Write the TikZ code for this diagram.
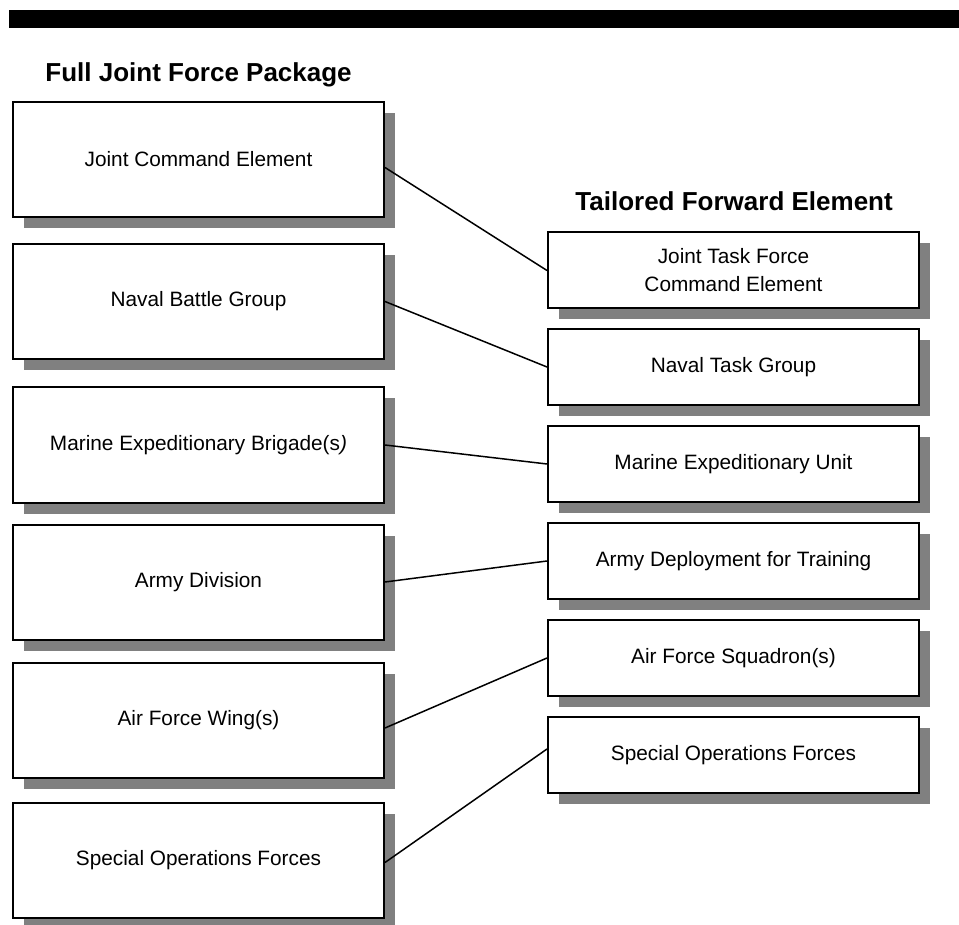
\documentclass[tikz,border=0pt]{standalone}
\usepackage{fontspec}
\setmainfont{Liberation Sans}
\usepackage{xcolor}
\usepackage{tikz}
\usetikzlibrary{shadows}
\definecolor{shadowgray}{RGB}{128, 128, 128}

\begin{document}
\begin{tikzpicture}[x=0.5pt, y=-0.5pt,
            full/.style = {draw=black, line width=1pt, fill=white, text=black, minimum width=185.5pt, minimum height=57.5pt, align=center, font=\fontsize{10.4}{14}\selectfont,
                drop shadow={shadow xshift=5.5pt, shadow yshift=-5.5pt, fill=shadowgray, opacity=1}},
            tailored/.style = {full, minimum height=38pt},
            heading/.style = {anchor=base west, inner sep=0pt, font=\fontsize{13}{15}\selectfont\bfseries},
            link/.style = {draw=black, line width=0.75pt}]
        \useasboundingbox (0,0) rectangle (959,925);
        \fill[black] (9,10) rectangle (959,28);

        \node[heading] (H1) at (45,82) {Full Joint Force Package};
        \node[heading] (H2) at (575,211) {Tailored Forward Element};

        % full package
        \node[full] (1) at (198.5,159.5) {Joint Command Element};
        \node[full] (2) at (198.5,301.5) {Naval Battle Group};
        \node[full] (3) at (198.5,445) {Marine Expeditionary Brigade(s\textit{)}};
        \node[full] (4) at (198.5,582) {Army Division};
        \node[full] (5) at (198.5,720) {Air Force Wing(s)};
        \node[full] (6) at (198.5,860.5) {Special Operations Forces};

        % forward element
        \node[tailored] (A) at (733.5,270.5) {Joint Task Force\\Command Element};
        \node[tailored] (B) at (733.5,367) {Naval Task Group};
        \node[tailored] (C) at (733.5,464) {Marine Expeditionary Unit};
        \node[tailored] (D) at (733.5,561) {Army Deployment for Training};
        \node[tailored] (E) at (733.5,658) {Air Force Squadron(s)};
        \node[tailored] (F) at (733.5,755) {Special Operations Forces};

        \draw[link] ([yshift=-4pt]1.east) -- (A.west);
        \draw[link] (2.east) -- (B.west);
        \draw[link] (3.east) -- (C.west);
        \draw[link] (4.east) -- (D.west);
        \draw[link] ([yshift=-4pt]5.east) -- (E.west);
        \draw[link] ([yshift=-1pt]6.east) -- ([yshift=3pt]F.west);
        \end{tikzpicture}
\end{document}
